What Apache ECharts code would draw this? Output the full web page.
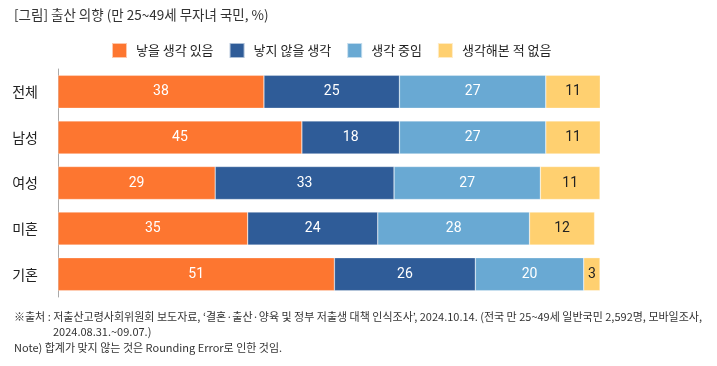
<!DOCTYPE html>
<html><head><meta charset="utf-8">
<script src="https://cdn.jsdelivr.net/npm/echarts@6/dist/echarts.min.js"></script>
<style>html,body{margin:0;padding:0;background:#fff;}#c{width:717px;height:366px;}</style>
</head><body><div id="c"></div>
<script>
var categories = ['전체', '남성', '여성', '미혼', '기혼'];
var seriesNames = ['낳을 생각 있음', '낳지 않을 생각', '생각 중임', '생각해본 적 없음'];
var willHave = [38, 45, 29, 35, 51];
var willNotHave = [25, 18, 33, 24, 26];
var considering = [27, 27, 27, 28, 20];
var neverThought = [11, 11, 11, 12, 3];
var colors = ['#FD7630', '#2F5C98', '#69A9D3', '#FFD070'];
var labelColors = ['#fff', '#fff', '#fff', '#222'];
var FONT = '"Noto Sans CJK KR", "Noto Sans", sans-serif';
var NUMFONT = 'Roboto, "Noto Sans", sans-serif';

var data = [willHave, willNotHave, considering, neverThought];
var series = data.map(function (d, i) {
  return {
    name: seriesNames[i], type: 'bar', stack: 'a', barWidth: 33, clip: true,
    data: d,
    itemStyle: { color: colors[i], borderColor: 'rgba(255,255,255,0.6)', borderWidth: 0.5 },
    label: { show: true, position: 'inside', color: labelColors[i], fontSize: 14, fontFamily: NUMFONT },
    emphasis: { disabled: true }
  };
});

var chart = echarts.init(document.getElementById('c'), null, { renderer: 'canvas' });
chart.setOption({
  animation: false,
  grid: { left: 58, right: 117, top: 69, height: 228, containLabel: false },
  legend: {
    left: 106, top: 37, itemWidth: 15, itemHeight: 15, itemGap: 15,
    icon: 'rect',
    textStyle: { fontSize: 13, color: '#222', fontFamily: FONT, padding: [0, 0, 0, 4] },
    data: seriesNames
  },
  xAxis: { type: 'value', min: 0, max: 100, show: false },
  yAxis: {
    type: 'category', data: categories, inverse: true,
    axisLine: { lineStyle: { color: '#aaa' } }, axisTick: { show: false },
    axisLabel: { fontSize: 14, color: '#222', margin: 20, fontFamily: FONT }
  },
  series: series,
  graphic: [
    { type: 'text', left: 14, top: 8, style: { text: '[그림] 출산 의향 (만 25~49세 무자녀 국민, %)', fontSize: 13.5, fill: '#333', fontFamily: FONT } },
    { type: 'text', left: 14, top: 311, style: { text: '※출처 : 저출산고령사회위원회 보도자료, ‘결혼·출산·양육 및 정부 저출생 대책 인식조사’, 2024.10.14. (전국 만 25~49세 일반국민 2,592명, 모바일조사,', fontSize: 11, fill: '#333', fontFamily: FONT } },
    { type: 'text', left: 53, top: 326, style: { text: '2024.08.31.~09.07.)', fontSize: 11, fill: '#333', fontFamily: FONT } },
    { type: 'text', left: 14, top: 342, style: { text: 'Note) 합계가 맞지 않는 것은 Rounding Error로 인한 것임.', fontSize: 11, fill: '#333', fontFamily: FONT } }
  ]
});
</script>
</body></html>
